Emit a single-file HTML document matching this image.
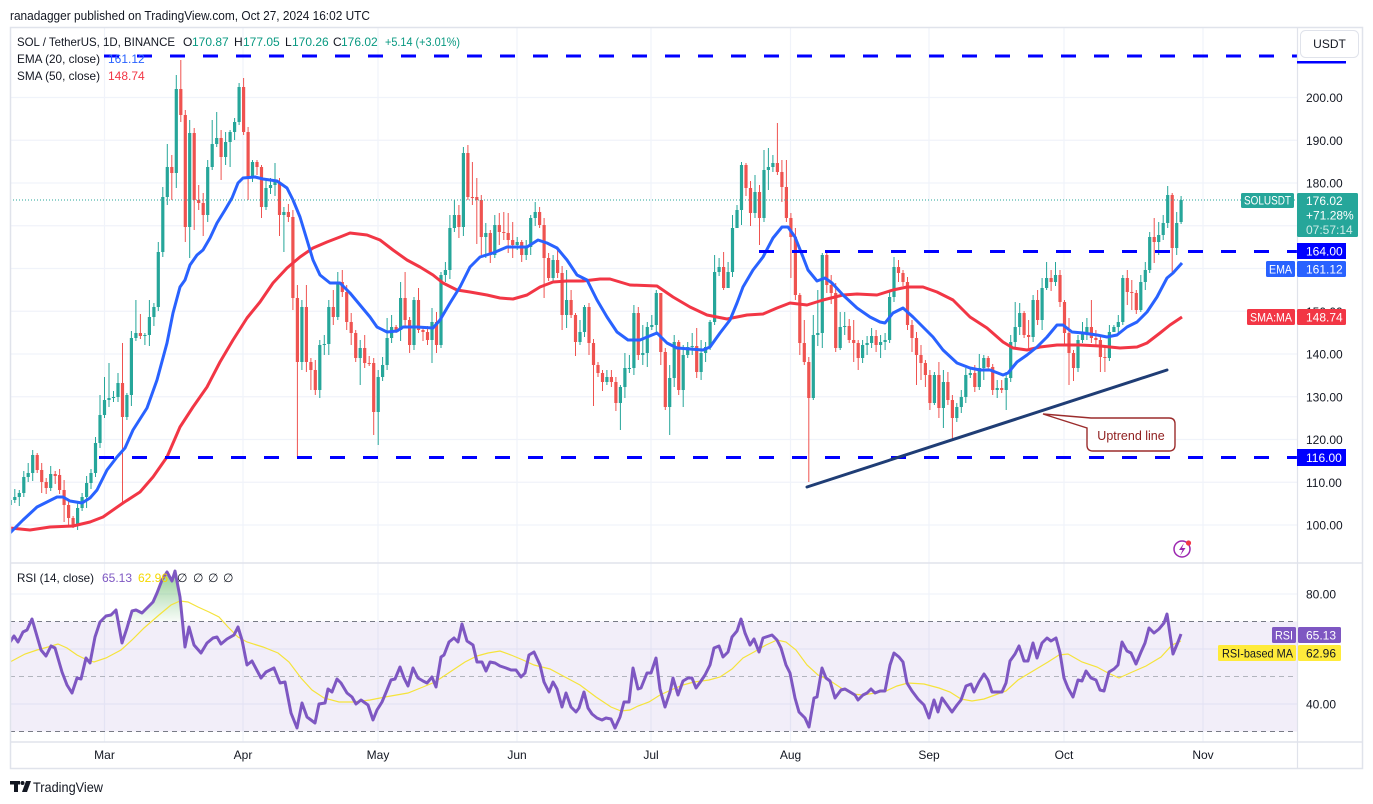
<!DOCTYPE html>
<html><head><meta charset="utf-8">
<style>
html,body{margin:0;padding:0;background:#fff;}
svg{display:block;font-family:"Liberation Sans",Arial,sans-serif;}
</style></head>
<body>
<svg width="1373" height="804" viewBox="0 0 1373 804" xmlns="http://www.w3.org/2000/svg">
<defs>
<clipPath id="cp"><rect x="10" y="28" width="1287" height="535"/></clipPath>
<clipPath id="cr"><rect x="10" y="564" width="1287" height="178"/></clipPath>
<clipPath id="cob"><rect x="10" y="564" width="1287" height="57.5"/></clipPath>
<linearGradient id="gg" gradientUnits="userSpaceOnUse" x1="0" y1="570" x2="0" y2="621.5"><stop offset="0" stop-color="#4caf50" stop-opacity="0.6"/><stop offset="1" stop-color="#4caf50" stop-opacity="0.04"/></linearGradient>
</defs>
<rect x="0" y="0" width="1373" height="804" fill="#fff"/>
<text x="10" y="20" font-size="12.5" fill="#131722" textLength="360" lengthAdjust="spacingAndGlyphs">ranadagger published on TradingView.com, Oct 27, 2024 16:02 UTC</text>
<!-- grid -->
<g stroke="#f0f3fa" stroke-width="1.2">
<line x1="104.5" y1="28" x2="104.5" y2="742"/><line x1="243" y1="28" x2="243" y2="742"/><line x1="378" y1="28" x2="378" y2="742"/><line x1="517" y1="28" x2="517" y2="742"/><line x1="651" y1="28" x2="651" y2="742"/><line x1="790.5" y1="28" x2="790.5" y2="742"/><line x1="929" y1="28" x2="929" y2="742"/><line x1="1064" y1="28" x2="1064" y2="742"/><line x1="1203" y1="28" x2="1203" y2="742"/>
<line x1="10" y1="525" x2="1297" y2="525"/><line x1="10" y1="482.25" x2="1297" y2="482.25"/><line x1="10" y1="439.5" x2="1297" y2="439.5"/><line x1="10" y1="396.75" x2="1297" y2="396.75"/><line x1="10" y1="354" x2="1297" y2="354"/><line x1="10" y1="311.25" x2="1297" y2="311.25"/><line x1="10" y1="268.5" x2="1297" y2="268.5"/><line x1="10" y1="225.75" x2="1297" y2="225.75"/><line x1="10" y1="183" x2="1297" y2="183"/><line x1="10" y1="140.25" x2="1297" y2="140.25"/><line x1="10" y1="97.5" x2="1297" y2="97.5"/>
<line x1="10" y1="594" x2="1297" y2="594"/><line x1="10" y1="649" x2="1297" y2="649"/><line x1="10" y1="704" x2="1297" y2="704"/>
</g>
<!-- RSI band -->
<rect x="10" y="621.5" width="1287" height="110" fill="#7e57c2" fill-opacity="0.1"/>
<line x1="10" y1="621.5" x2="1297" y2="621.5" stroke="#787b86" stroke-dasharray="5 4" stroke-width="1"/>
<line x1="10" y1="676.5" x2="1297" y2="676.5" stroke="#b2b5be" stroke-dasharray="5 4" stroke-width="1"/>
<line x1="10" y1="731.5" x2="1297" y2="731.5" stroke="#787b86" stroke-dasharray="5 4" stroke-width="1"/>
<!-- candles -->
<g clip-path="url(#cp)" fill="none">
<path stroke="#26a69a" stroke-width="1" d="M10.3 496V511M14.8 489V503M19.3 490V506M23.8 471V497M28.2 463V482M32.7 450V481M50.7 466V491M77.6 501V530M82.1 493V511M86.6 476V508M91 469V489M95.5 437V477M100 395V448M104.5 377V418M109 363V407M113.5 391V402M118 373V402M126.9 393V420M131.4 331V406M135.9 300V341M144.9 333V345M149.4 300V346M153.9 303V326M158.3 242V311M162.8 187V257M167.3 144V205M176.3 75V188M189.7 120V258M207.7 160V222M212.2 120V170M216.7 112V147M225.6 132V165M230.1 130V167M234.6 118V140M239.1 83V125M252.5 160V182M266 180V210M270.5 178V194M275 163V196M283.9 207V252M301.9 300V370M319.8 340V398M324.3 335V355M328.8 300V355M337.8 272V320M360.2 340V385M378.2 370V445M382.6 357V381M387.1 318V370M391.6 315V343M400.6 282V341M414 297V350M432 308V363M441 272V348M445.4 262V282M449.9 215V279M454.4 200V232M463.4 147V236M485.8 223V258M494.8 215V258M517.2 237V250M526.2 240V260M530.7 215V255M535.2 202V226M553.1 255V282M566.6 270V328M580 320V345M584.5 305V337M606.9 370V385M620.4 385V430M624.9 353V398M629.4 355V373M633.9 305V375M642.8 325V365M647.3 322V367M651.8 315V330M656.3 290V333M669.7 365V435M674.2 335V387M683.2 345V407M687.7 342V358M692.2 333V355M701.1 340V380M705.6 342V362M710.1 320V350M714.6 255V325M719.1 258V276M728.1 262V285M732.5 215V277M737 205V225M741.5 162V225M755 175V218M764 150V222M768.4 148V190M772.9 155V172M813.3 315V400M817.8 290V346M822.3 253V348M840.2 312V350M844.7 312V335M862.6 340V363M867.1 336V355M871.6 328V348M880.6 335V358M885.1 333V350M889.6 292V343M894 257V302M934.4 372V405M943.4 370V428M956.8 403V422M961.3 390V413M965.8 368V403M970.3 368V378M979.3 354V390M983.8 355V380M997.2 380V398M1006.2 372V410M1010.7 335V382M1015.2 302V347M1019.7 303V335M1033.1 295V342M1042.1 278V330M1046.6 262V290M1055.5 262V286M1078 335V372M1082.5 322V343M1086.9 318V340M1109.4 325V361M1113.9 325V332M1118.3 315V335M1122.8 275V325M1140.8 275V312M1145.3 262V290M1149.7 232V273M1158.7 222V255M1163.2 215V240M1167.7 186V228M1176.7 212V255M1181.1 196V224"/>
<path stroke="#26a69a" stroke-width="3.2" d="M10.3 500V505M14.8 497V500M19.3 493V497M23.8 477V493M28.2 473V477M32.7 455V473M50.7 474V488M77.6 508V525M82.1 497V508M86.6 483V497M91 473V483M95.5 443V473M100 415V443M104.5 400V415M109 398V400M113.5 397V398M118 383V397M126.9 395V417M131.4 338V395M135.9 333V338M144.9 335V336M149.4 317V335M153.9 307V317M158.3 252V307M162.8 197V252M167.3 167V197M176.3 89V173M189.7 133V227M207.7 167V215M212.2 144V167M216.7 138V144M225.6 142V157M230.1 132V142M234.6 122V132M239.1 87V122M252.5 162V177M266 188V207M270.5 185V188M275 182V185M283.9 212V215M301.9 307V362M319.8 345V390M324.3 344V345M328.8 307V344M337.8 282V317M360.2 348V358M378.2 377V412M382.6 365V377M387.1 338V365M391.6 327V338M400.6 298V330M414 300V345M432 322V340M441 275V345M445.4 270V275M449.9 228V270M454.4 215V228M463.4 153V227M485.8 233V237M494.8 225V255M517.2 242V245M526.2 247V255M530.7 218V247M535.2 212V218M553.1 260V278M566.6 300V315M580 332V342M584.5 307V332M606.9 377V382M620.4 387V403M624.9 368V387M629.4 368V369M633.9 313V368M642.8 353V355M647.3 327V353M651.8 325V327M656.3 293V325M669.7 378V407M674.2 342V378M683.2 355V390M687.7 347V355M692.2 346V347M701.1 353V372M705.6 347V353M710.1 322V347M714.6 272V322M719.1 267V272M728.1 272V288M732.5 228V272M737 210V228M741.5 165V210M755 192V213M764 170V218M768.4 167V170M772.9 163V167M813.3 335V398M817.8 333V335M822.3 255V333M840.2 327V348M844.7 326V327M862.6 345V358M867.1 343V345M871.6 336V343M880.6 342V345M885.1 340V342M889.6 297V340M894 267V297M934.4 375V403M943.4 382V408M956.8 407V418M961.3 397V407M965.8 375V397M970.3 373V375M979.3 368V387M983.8 358V368M997.2 388V390M1006.2 378V390M1010.7 342V378M1015.2 327V342M1019.7 313V327M1033.1 300V337M1042.1 288V320M1046.6 278V288M1055.5 275V282M1078 340V368M1082.5 333V340M1086.9 327V333M1109.4 332V358M1113.9 327V332M1118.3 322V327M1122.8 278V322M1140.8 282V310M1145.3 270V282M1149.7 237V270M1158.7 235V242M1163.2 223V235M1167.7 195V223M1176.7 223V248M1181.1 200V222"/>
<path stroke="#ef5350" stroke-width="1" d="M37.2 453V473M41.7 463V493M46.2 478V494M55.2 471V484M59.6 469V494M64.1 480V522M68.6 500V526M73.1 516V528M122.5 343V503M140.4 314V339M171.8 155V200M180.8 60V122M185.3 110V242M194.2 128V230M198.7 185V210M203.2 193V236M221.1 130V180M243.6 78V135M248.1 127V200M257 160V175M261.5 165V218M279.5 178V236M288.4 204V222M292.9 210V310M297.4 285V457M306.4 285V372M310.9 358V390M315.3 360V395M333.3 290V325M342.3 270V297M346.7 285V330M351.2 313V345M355.7 330V362M364.7 335V368M369.2 356V366M373.7 358V435M396.1 325V333M405.1 272V326M409.6 317V353M418.5 288V333M423 328V341M427.5 326V345M436.5 312V353M458.9 205V238M467.9 145V200M472.4 162V205M476.8 178V244M481.3 195V255M490.3 230V263M499.3 213V245M503.8 212V240M508.2 213V253M512.7 222V258M521.7 240V262M539.6 207V228M544.1 218V298M548.6 253V281M557.6 250V278M562.1 266V330M571.1 290V318M575.5 313V356M589 303V355M593.5 339V406M598 362V377M602.5 370V391M611.4 370V387M615.9 377V411M638.3 307V360M660.8 293V365M665.3 348V410M678.7 340V395M696.7 328V378M723.6 252V290M746 163V196M750.5 181V226M759.5 185V245M777.4 123V175M781.9 160V202M786.4 160V222M790.9 213V278M795.4 228V300M799.8 293V355M804.3 320V365M808.8 357V482M826.8 253V293M831.2 275V304M835.7 283V352M849.2 319V343M853.7 320V362M858.2 340V370M876.1 330V352M898.5 260V282M903 270V286M907.5 277V330M912 320V352M916.5 332V385M921 345V380M925.4 360V387M929.9 370V410M938.9 362V418M947.9 372V405M952.4 395V440M974.8 365V392M988.2 356V371M992.7 364V395M1001.7 380V393M1024.1 311V338M1028.6 320V348M1037.6 290V325M1051.1 270V291M1060 270V307M1064.5 300V345M1069 318V385M1073.5 350V381M1091.4 300V343M1095.9 330V345M1100.4 335V372M1104.9 347V372M1127.3 270V305M1131.8 280V310M1136.3 290V314M1154.2 218V263M1172.2 193V272"/>
<path stroke="#ef5350" stroke-width="3.2" d="M37.2 455V470M41.7 470V482M46.2 482V488M55.2 474V476M59.6 475V490M64.1 490V505M68.6 505V518M73.1 518V525M122.5 383V417M140.4 333V336M171.8 167V173M180.8 89V115M185.3 115V227M194.2 133V200M198.7 200V203M203.2 203V215M221.1 138V157M243.6 87V132M248.1 132V177M257 162V167M261.5 167V207M279.5 182V215M288.4 212V217M292.9 217V298M297.4 298V362M306.4 307V362M310.9 362V370M315.3 370V390M333.3 307V317M342.3 282V292M346.7 292V322M351.2 322V333M355.7 333V358M364.7 348V363M369.2 363V364M373.7 363V412M396.1 327V330M405.1 298V320M409.6 320V345M418.5 300V330M423 330V332M427.5 332V340M436.5 322V345M458.9 215V227M467.9 153V197M472.4 197V198M476.8 197V200M481.3 200V237M490.3 233V255M499.3 225V232M503.8 232V233M508.2 233V240M512.7 240V245M521.7 242V255M539.6 212V225M544.1 225V258M548.6 258V278M557.6 260V273M562.1 273V315M571.1 300V315M575.5 315V342M589 307V343M593.5 343V365M598 365V373M602.5 373V382M611.4 377V382M615.9 382V403M638.3 313V355M660.8 293V352M665.3 352V407M678.7 342V390M696.7 346V372M723.6 267V288M746 165V188M750.5 188V213M759.5 192V218M777.4 163V172M781.9 172V187M786.4 187V218M790.9 218V237M795.4 237V295M799.8 295V343M804.3 343V362M808.8 362V398M826.8 255V285M831.2 285V293M835.7 293V348M849.2 326V340M853.7 340V343M858.2 343V358M876.1 336V345M898.5 267V273M903 273V282M907.5 282V325M912 325V338M916.5 338V355M921 355V363M925.4 363V375M929.9 375V403M938.9 375V408M947.9 382V400M952.4 400V418M974.8 373V387M988.2 358V367M992.7 367V390M1001.7 388V390M1024.1 313V335M1028.6 335V337M1037.6 300V320M1051.1 278V282M1060 275V302M1064.5 302V333M1069 333V353M1073.5 353V368M1091.4 327V338M1095.9 338V340M1100.4 340V357M1104.9 357V358M1127.3 278V292M1131.8 292V293M1136.3 293V310M1154.2 237V242M1172.2 195V248"/>
<polyline stroke="#f23645" stroke-width="3" stroke-linejoin="round" points="10,528 30,530 50,527 73,526 90,522 103,517 123,503 140,492 153,477 167,457 180,427 193,407 207,387 220,362 233,340 247,318 260,302 273,283 287,268 300,257 313,248 327,242 340,237 350,233 367,235 380,240 393,250 407,260 420,267 433,275 443,283 457,290 470,292 487,295 500,298 513,299 527,295 540,287 553,282 567,281 583,281 600,279 610,279 630,285 657,286 673,297 690,307 707,315 727,319 747,315 763,314 777,308 790,303 807,305 823,300 843,295 857,294 877,295 893,290 907,287 923,287 937,292 953,300 970,317 987,328 1003,342 1013,348 1027,350 1040,347 1057,345 1080,345 1100,346 1120,348 1137,347 1147,343 1160,333 1170,325 1182,317"/>
<polyline stroke="#2962ff" stroke-width="3" stroke-linejoin="round" points="10,533 23,520 37,507 47,502 57,497 63,497 70,501 82,503 90,498 97,490 107,470 117,457 125,448 133,430 147,408 157,380 167,343 173,313 180,287 185,280 190,265 197,255 203,250 210,238 217,223 225,210 232,198 238,183 243,178 255,177 263,179 277,181 287,188 293,200 300,217 307,240 313,260 320,275 330,283 340,283 350,293 360,305 370,317 377,327 387,332 397,331 403,327 417,327 433,328 440,320 450,303 460,287 470,267 480,257 493,253 507,247 527,247 538,240 547,243 557,248 567,260 577,275 587,280 597,300 607,317 617,332 628,340 640,340 652,335 657,333 667,343 677,348 690,349 703,350 710,347 720,333 730,320 737,303 743,287 753,270 763,257 773,238 782,227 788,227 795,237 803,257 808,270 817,281 825,278 832,283 843,295 857,308 870,317 880,322 885,323 893,313 903,308 913,317 923,327 933,337 943,350 957,363 970,368 980,370 990,370 1003,375 1008,373 1017,362 1027,355 1037,347 1047,337 1057,325 1063,325 1072,332 1083,333 1097,335 1107,337 1117,335 1127,327 1137,322 1147,312 1157,297 1167,278 1173,273 1182,263"/>
</g>
<!-- RSI -->
<path clip-path="url(#cob)" fill="url(#gg)" d="M95,637 L100,622 106,616 111,615 116,610 122,643 127,628 132,611 136,610 142,613 148,607 153,602 157,593 162,580 167,572 172,581 175,571 180,597 185,647 L185,621.5 L95,621.5 Z"/>
<g clip-path="url(#cr)" fill="none">
<polyline stroke="#f5e33b" stroke-width="1.2" points="10,662 25,654 37,650 48,647 58,644 67,648 77,655 87,660 94,662 106,658 121,650 132,640 144,628 159,615 171,605 180,601 188,602 198,607 209,612 219,617 228,627 238,637 247,642 263,647 278,653 289,662 301,678 312,690 324,698 339,702 354,702 370,700 385,697 408,693 423,687 435,682 450,672 465,662 477,656 488,653 500,651 511,655 523,660 534,665 550,669 565,677 580,685 596,697 611,707 621,711 630,710 638,706 649,702 660,695 671,690 683,685 694,682 709,680 720,677 732,669 743,658 754,652 766,645 777,640 786,642 796,650 807,665 818,675 829,680 841,688 852,694 863,695 875,693 886,691 897,686 908,683 924,684 939,688 950,692 961,699 972,701 984,699 995,695 1006,691 1018,680 1033,671 1048,662 1059,655 1068,654 1082,662 1097,667 1108,673 1119,678 1130,673 1146,666 1161,657 1172,645 1181,641"/>
<polyline stroke="#7e57c2" stroke-width="3" stroke-linejoin="round" points="10,642 14,636 18,642 23,632 27,630 32,619 41,650 46,656 51,646 55,648 62,672 67,685 72,693 77,678 81,679 86,658 90,663 95,637 100,622 106,616 111,615 116,610 122,643 127,628 132,611 136,610 142,613 148,607 153,602 157,593 162,580 167,572 172,581 175,571 180,597 185,647 189,627 194,645 201,653 207,643 213,638 217,637 221,644 227,639 234,635 238,627 242,640 247,665 252,661 261,678 266,672 274,668 280,683 285,682 291,713 297,728 302,703 307,717 315,723 319,704 325,703 328,689 332,692 337,679 341,683 347,693 352,697 356,704 361,700 368,705 373,720 377,710 382,702 387,690 391,680 395,679 400,667 404,678 408,686 413,668 418,678 423,681 427,683 432,677 436,687 441,657 444,655 449,642 454,638 458,642 462,624 467,641 473,645 477,662 482,662 486,671 490,662 495,663 500,666 506,668 511,670 516,670 521,677 525,673 529,655 534,652 540,665 544,682 549,692 553,682 557,689 562,707 566,693 571,707 576,712 579,708 584,692 588,708 592,714 597,718 602,720 606,718 611,719 615,728 620,717 624,702 629,702 633,668 638,689 641,688 647,673 651,673 656,658 660,689 665,707 670,692 673,678 678,695 683,681 688,678 692,678 696,688 701,681 705,675 710,665 714,648 719,646 723,657 728,652 732,637 737,631 741,619 745,633 750,645 754,639 759,652 763,638 769,636 772,635 777,640 781,648 786,665 790,673 795,698 799,712 805,718 809,727 814,698 817,697 822,668 826,678 830,681 835,698 841,690 845,689 850,692 855,695 858,700 863,695 867,693 871,689 875,693 880,691 885,691 890,665 894,653 899,657 903,662 907,683 912,691 918,699 924,705 929,718 934,700 938,712 942,698 947,705 952,712 957,705 961,700 966,686 971,684 974,692 979,682 984,674 988,680 992,692 997,692 1002,692 1006,683 1010,661 1015,654 1019,646 1024,661 1028,661 1033,643 1037,658 1042,643 1047,638 1051,641 1056,638 1060,653 1064,678 1068,688 1073,697 1078,680 1082,681 1086,671 1091,678 1096,680 1100,690 1104,691 1109,672 1114,669 1118,665 1122,642 1127,651 1131,653 1136,664 1141,652 1145,643 1149,628 1154,633 1159,629 1164,623 1167,614 1173,654 1178,642 1181,634"/>
</g>
<!-- horizontal levels -->
<line x1="104" y1="56" x2="1297" y2="56" stroke="#0000ff" stroke-width="3" stroke-dasharray="15 18"/>
<line x1="759" y1="251.5" x2="1297" y2="251.5" stroke="#0000ff" stroke-width="3" stroke-dasharray="15 18"/>
<line x1="99" y1="457.5" x2="1297" y2="457.5" stroke="#0000ff" stroke-width="3" stroke-dasharray="15 18"/>
<line x1="10" y1="200" x2="1297" y2="200" stroke="#26a69a" stroke-width="1" stroke-dasharray="1 2"/>
<!-- trend line -->
<line x1="807" y1="487" x2="1167" y2="370" stroke="#1f3d75" stroke-width="3" stroke-linecap="round"/>
<path d="M1093,418 H1169 Q1175,418 1175,424 V445 Q1175,451 1169,451 H1093 Q1087,451 1087,445 V428 L1043,414 L1091,418 Z" fill="#fff" stroke="#9b2c2c" stroke-width="1.4"/>
<text x="1131" y="440" font-size="12.5" fill="#8f1d1d" text-anchor="middle">Uptrend line</text>
<!-- lightning icon -->
<circle cx="1182" cy="549" r="8" fill="none" stroke="#9c27b0" stroke-width="1.5"/>
<path d="M1184,543 L1179,550 L1182.5,550 L1180,556 L1185.5,548 L1182,548 Z" fill="#9c27b0"/>
<circle cx="1188.5" cy="543" r="2.6" fill="#f23645"/>
<!-- frame and separators -->
<rect x="10.5" y="27.5" width="1352" height="741" fill="none" stroke="#e0e3eb" stroke-width="1.5"/>
<line x1="10" y1="563" x2="1362" y2="563" stroke="#e0e3eb" stroke-width="1.5"/>
<line x1="10" y1="742" x2="1362" y2="742" stroke="#e0e3eb" stroke-width="1.5"/>
<line x1="1297.5" y1="27" x2="1297.5" y2="768" stroke="#e0e3eb" stroke-width="1.2"/>
<!-- legends -->
<g font-size="12">
<text x="17" y="46" fill="#131722" textLength="158" lengthAdjust="spacingAndGlyphs">SOL / TetherUS, 1D, BINANCE</text>
<text x="183" y="46" fill="#131722">O</text><text x="192" y="46" fill="#089981">170.87</text>
<text x="234" y="46" fill="#131722">H</text><text x="243" y="46" fill="#089981">177.05</text>
<text x="285" y="46" fill="#131722">L</text><text x="292" y="46" fill="#089981">170.26</text>
<text x="333" y="46" fill="#131722">C</text><text x="341" y="46" fill="#089981">176.02</text>
<text x="385" y="46" fill="#089981" textLength="75" lengthAdjust="spacingAndGlyphs">+5.14 (+3.01%)</text>
<text x="17" y="63" fill="#131722" textLength="83" lengthAdjust="spacingAndGlyphs">EMA (20, close)</text><text x="108" y="63" fill="#2962ff">161.12</text>
<text x="17" y="80" fill="#131722" textLength="83" lengthAdjust="spacingAndGlyphs">SMA (50, close)</text><text x="108" y="80" fill="#f23645">148.74</text>
<text x="17" y="582" fill="#131722" textLength="77" lengthAdjust="spacingAndGlyphs">RSI (14, close)</text><text x="102" y="582" fill="#7e57c2">65.13</text><text x="138" y="582" fill="#f5d800">62.96</text>
<text x="177" y="582" fill="#131722">∅</text><text x="193" y="582" fill="#131722">∅</text><text x="208" y="582" fill="#131722">∅</text><text x="223" y="582" fill="#131722">∅</text>
</g>
<!-- price axis -->
<g font-size="12" fill="#131722">
<text x="1306" y="102">200.00</text><text x="1306" y="144.75">190.00</text><text x="1306" y="187.5">180.00</text><text x="1306" y="315.75">150.00</text><text x="1306" y="358.5">140.00</text><text x="1306" y="401.25">130.00</text><text x="1306" y="444">120.00</text><text x="1306" y="486.75">110.00</text><text x="1306" y="529.5">100.00</text>
<text x="1306" y="598.5">80.00</text><text x="1306" y="708.5">40.00</text>
<g text-anchor="middle"><text x="104.5" y="759">Mar</text><text x="243" y="759">Apr</text><text x="378" y="759">May</text><text x="517" y="759">Jun</text><text x="651" y="759">Jul</text><text x="790.5" y="759">Aug</text><text x="929" y="759">Sep</text><text x="1064" y="759">Oct</text><text x="1203" y="759">Nov</text></g>
</g>
<rect x="1300.5" y="30.5" width="58" height="27" rx="5" fill="#fff" stroke="#e0e3eb"/>
<text x="1329.5" y="48" font-size="12" fill="#131722" text-anchor="middle">USDT</text>
<rect x="1297" y="61" width="49" height="2.5" fill="#0000ff"/>
<rect x="1241" y="193" width="53" height="15" rx="1.5" fill="#26a69a"/>
<text x="1244" y="204.5" font-size="11.5" fill="#fff" textLength="47" lengthAdjust="spacingAndGlyphs">SOLUSDT</text>
<rect x="1297" y="193" width="61" height="44" rx="1.5" fill="#26a69a"/>
<text x="1306" y="205" font-size="12" fill="#fff">176.02</text>
<text x="1306" y="219.5" font-size="12" fill="#fff">+71.28%</text>
<text x="1306" y="234" font-size="12" fill="#cdebe7">07:57:14</text>
<rect x="1297" y="243" width="49" height="16" fill="#0000ff"/>
<text x="1306" y="255.5" font-size="12" fill="#fff">164.00</text>
<rect x="1266" y="261" width="29" height="16" rx="1.5" fill="#2962ff"/>
<text x="1269" y="273.5" font-size="12" fill="#fff" textLength="23" lengthAdjust="spacingAndGlyphs">EMA</text>
<rect x="1297" y="261" width="49" height="16" rx="1.5" fill="#2962ff"/>
<text x="1306" y="273.5" font-size="12" fill="#fff">161.12</text>
<rect x="1247" y="309" width="48" height="16" rx="1.5" fill="#f23645"/>
<text x="1250" y="321.5" font-size="12" fill="#fff" textLength="42" lengthAdjust="spacingAndGlyphs">SMA:MA</text>
<rect x="1297" y="309" width="49" height="16" rx="1.5" fill="#f23645"/>
<text x="1306" y="321.5" font-size="12" fill="#fff">148.74</text>
<rect x="1297" y="449" width="49" height="17" fill="#0000ff"/>
<text x="1306" y="462" font-size="12" fill="#fff">116.00</text>
<rect x="1272" y="627" width="24" height="16" rx="1.5" fill="#7e57c2"/>
<text x="1275" y="639.5" font-size="12" fill="#fff" textLength="18" lengthAdjust="spacingAndGlyphs">RSI</text>
<rect x="1298" y="627" width="43" height="16" rx="1.5" fill="#7e57c2"/>
<text x="1306" y="639.5" font-size="12" fill="#fff">65.13</text>
<rect x="1218" y="645" width="78" height="16" rx="1.5" fill="#ffeb3b"/>
<text x="1222" y="657.5" font-size="12" fill="#131722" textLength="71" lengthAdjust="spacingAndGlyphs">RSI-based MA</text>
<rect x="1298" y="645" width="43" height="16" rx="1.5" fill="#ffeb3b"/>
<text x="1306" y="657.5" font-size="12" fill="#131722">62.96</text>
<!-- footer -->
<g fill="#131722">
<rect x="10" y="781" width="10" height="3.5"/>
<rect x="14" y="781" width="4" height="11"/>
<circle cx="22.5" cy="783" r="2"/>
<path d="M26,781 L31,781 L27,792 L22,792 Z"/>
</g>
<text x="33" y="792" font-size="14" fill="#131722" textLength="70" lengthAdjust="spacingAndGlyphs">TradingView</text>
</svg>
</body></html>
